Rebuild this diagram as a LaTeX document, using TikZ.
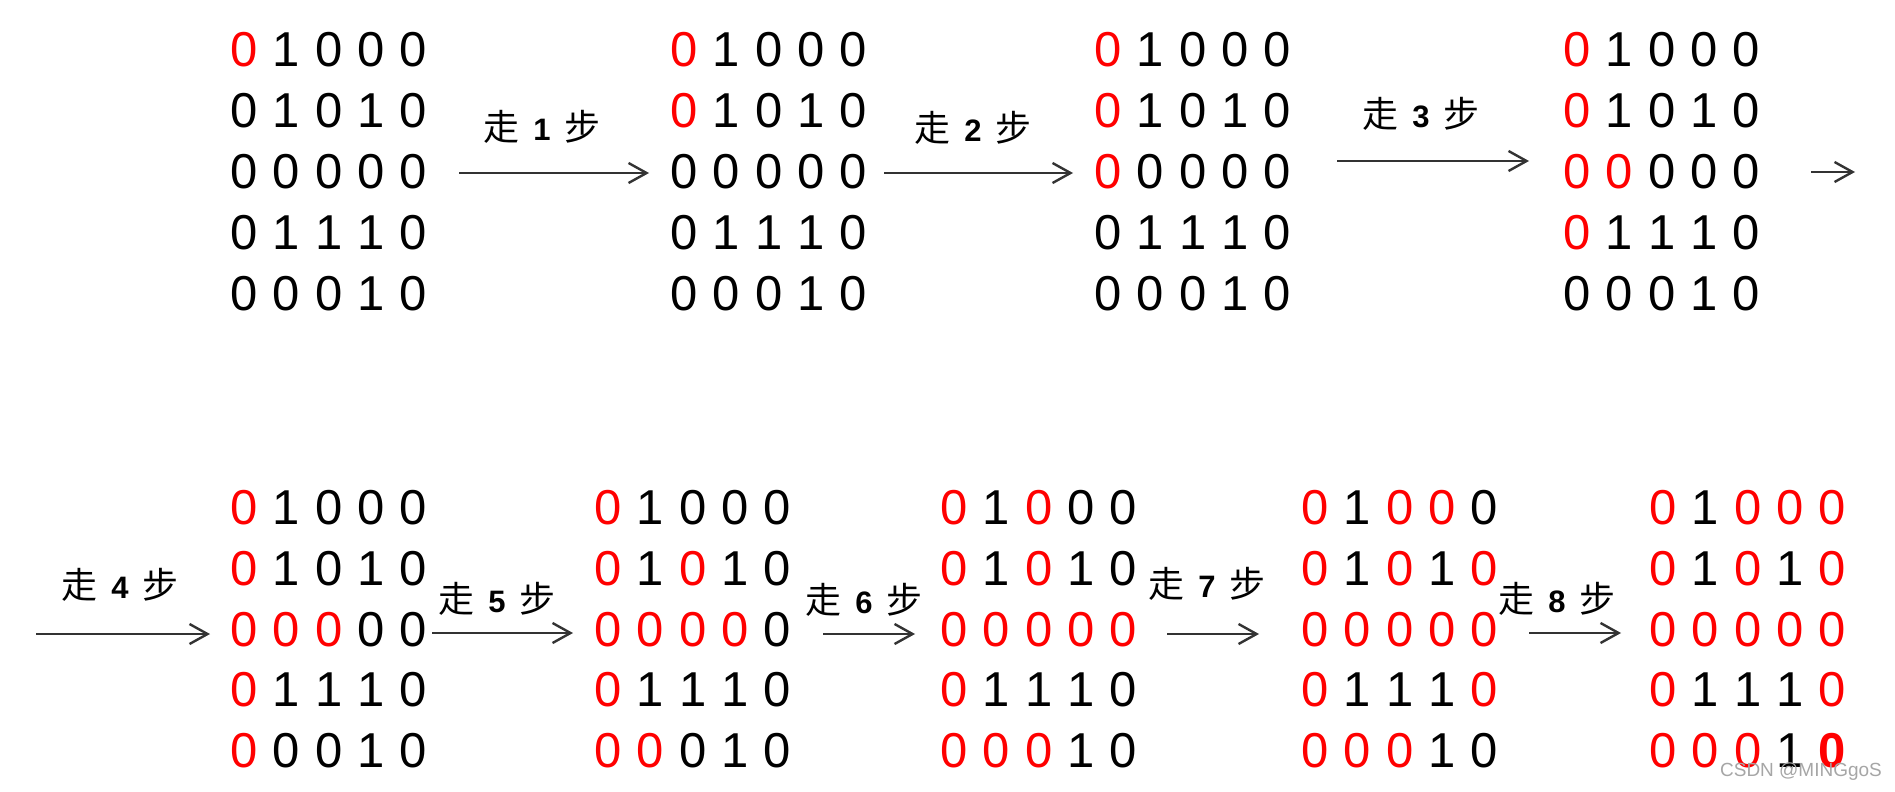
\documentclass[tikz,border=0pt]{standalone}
\usepackage{fontspec}
\setmainfont{Liberation Sans}
\newfontfamily\cjk{Noto Sans CJK SC}
\usetikzlibrary{arrows.meta}
\newcommand\dga{0}
\newcommand\dgb{1}
\newcommand\dgr{\textcolor{red}{0}}
\newcommand\dgR{\textcolor{red}{\bfseries 0}}
\newcommand\steplabel[1]{{\cjk 走}\hspace{7pt}{\bfseries\fontsize{15.5pt}{15.5pt}\selectfont #1}\hspace{7pt}{\cjk 步}}
\newcommand\drawmat[4]{%
  \foreach \rw [count=\i from 0] in {#4} {
    \foreach \c [count=\j from 0] in \rw {
      \node[digit] (#1-\i-\j) at ({#2+42.4*\j},{#3+17.5+60.8*\i}) {\csname dg\c\endcsname};
    }
  }%
}
\begin{document}
\begin{tikzpicture}[x=0.5pt,y=-0.5pt,
  digit/.style={anchor=base,inner sep=0pt,font=\fontsize{24.5pt}{24.5pt}\selectfont},
  lbl/.style={inner sep=0pt,font=\fontsize{18pt}{18pt}\selectfont},
  arr/.style={draw=black!80,line width=1.2pt,-{Straight Barb[length=9pt,width=10pt,line width=1.2pt]}}]
\useasboundingbox[fill=white] (0,0) rectangle (1895,792);
% top row
\drawmat{m1}{244}{49.5}{{r,b,a,a,a},{a,b,a,b,a},{a,a,a,a,a},{a,b,b,b,a},{a,a,a,b,a}}
\drawmat{m2}{684}{49.5}{{r,b,a,a,a},{r,b,a,b,a},{a,a,a,a,a},{a,b,b,b,a},{a,a,a,b,a}}
\drawmat{m3}{1108}{49.5}{{r,b,a,a,a},{r,b,a,b,a},{r,a,a,a,a},{a,b,b,b,a},{a,a,a,b,a}}
\drawmat{m4}{1577}{49.5}{{r,b,a,a,a},{r,b,a,b,a},{r,r,a,a,a},{r,b,b,b,a},{a,a,a,b,a}}
% bottom row
\drawmat{m5}{244}{507}{{r,b,a,a,a},{r,b,a,b,a},{r,r,r,a,a},{r,b,b,b,a},{r,a,a,b,a}}
\drawmat{m6}{608}{507}{{r,b,a,a,a},{r,b,r,b,a},{r,r,r,r,a},{r,b,b,b,a},{r,r,a,b,a}}
\drawmat{m7}{954}{507}{{r,b,r,a,a},{r,b,r,b,a},{r,r,r,r,r},{r,b,b,b,a},{r,r,r,b,a}}
\drawmat{m8}{1315}{507}{{r,b,r,r,a},{r,b,r,b,r},{r,r,r,r,r},{r,b,b,b,r},{r,r,r,b,a}}
\drawmat{m9}{1663}{507}{{r,b,r,r,r},{r,b,r,b,r},{r,r,r,r,r},{r,b,b,b,r},{r,r,r,b,R}}
% labels
\node[lbl] (l1) at (542,127) {\steplabel{1}};
\node[lbl] (l2) at (973,128) {\steplabel{2}};
\node[lbl] (l3) at (1421,114) {\steplabel{3}};
\node[lbl] (l4) at (120,585) {\steplabel{4}};
\node[lbl] (l5) at (497,599) {\steplabel{5}};
\node[lbl] (l6) at (864,600) {\steplabel{6}};
\node[lbl] (l7) at (1207,584) {\steplabel{7}};
\node[lbl] (l8) at (1557,599) {\steplabel{8}};
% arrow ends
\coordinate (a1s) at (459,173); \coordinate (a1e) at (649,173);
\coordinate (a2s) at (884,173); \coordinate (a2e) at (1073,173);
\coordinate (a3s) at (1337,161); \coordinate (a3e) at (1529,161);
\coordinate (a9s) at (1811,172); \coordinate (a9e) at (1855,172);
\coordinate (a4s) at (36,634); \coordinate (a4e) at (210,634);
\coordinate (a5s) at (432,633); \coordinate (a5e) at (573,633);
\coordinate (a6s) at (823,634); \coordinate (a6e) at (915,634);
\coordinate (a7s) at (1167,634); \coordinate (a7e) at (1259,634);
\coordinate (a8s) at (1529,633); \coordinate (a8e) at (1621,633);
\foreach \k in {1,...,9} { \draw[arr] (a\k s) -- (a\k e); }
% watermark
\node[inner sep=0pt,font=\fontsize{9.5pt}{9.5pt}\selectfont,text=black!35] (wm) at (1801,772) {CSDN @MINGgoS};
\end{tikzpicture}
\end{document}
